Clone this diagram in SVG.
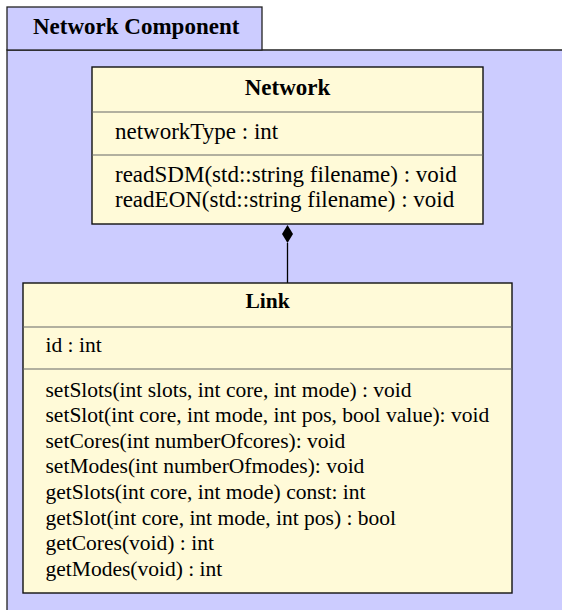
<svg xmlns="http://www.w3.org/2000/svg" width="562" height="610" viewBox="0 0 562 610">
<style>
.frame{fill:#CCCCFF;stroke:#222;stroke-width:1.3}
.box{fill:#FFFAD8;stroke:#111;stroke-width:1.4}
.div{stroke:#666;stroke-width:1.2}
.t{font-family:'Liberation Serif','Times New Roman',serif;font-size:23px;fill:#000}
.s{font-size:21.5px}
.b{font-weight:bold}
.c{text-anchor:middle}
</style>
<rect x="0" y="0" width="562" height="610" fill="#fff"/>
<g id="frame">
<path class="frame" d="M7,50 H570 V620 H7 Z"/>
<rect class="frame" x="7" y="7" width="255" height="43"/>
<text class="t b" x="33" y="34">Network Component</text>
</g>
<g id="connectors">
<line x1="287.5" y1="243" x2="287.5" y2="283" stroke="#000" stroke-width="1.3"/>
<polygon points="287.5,225 293,234 287.5,243 282,234" fill="#000"/>
</g>
<g id="Network">
<rect class="box" x="92" y="67" width="391" height="157"/>
<line class="div" x1="92" y1="112" x2="483" y2="112"/>
<line class="div" x1="92" y1="155" x2="483" y2="155"/>
<text class="t b c" x="287.5" y="95">Network</text>
<text class="t" x="115" y="139">networkType : int</text>
<text class="t" x="115" y="182">readSDM(std::string filename) : void</text>
<text class="t" x="115" y="207">readEON(std::string filename) : void</text>
</g>
<g id="Link">
<rect class="box" x="23" y="283" width="489" height="310"/>
<line class="div" x1="23" y1="327" x2="512" y2="327"/>
<line class="div" x1="23" y1="369" x2="512" y2="369"/>
<text class="t s b c" x="267.5" y="308">Link</text>
<text class="t s" x="45.5" y="352">id : int</text>
<text class="t s" x="45.5" y="396.5">setSlots(int slots, int core, int mode) : void</text>
<text class="t s" x="45.5" y="422">setSlot(int core, int mode, int pos, bool value): void</text>
<text class="t s" x="45.5" y="447.5">setCores(int numberOfcores): void</text>
<text class="t s" x="45.5" y="473">setModes(int numberOfmodes): void</text>
<text class="t s" x="45.5" y="499">getSlots(int core, int mode) const: int</text>
<text class="t s" x="45.5" y="524.5">getSlot(int core, int mode, int pos) : bool</text>
<text class="t s" x="45.5" y="550">getCores(void) : int</text>
<text class="t s" x="45.5" y="576">getModes(void) : int</text>
</g>
</svg>
